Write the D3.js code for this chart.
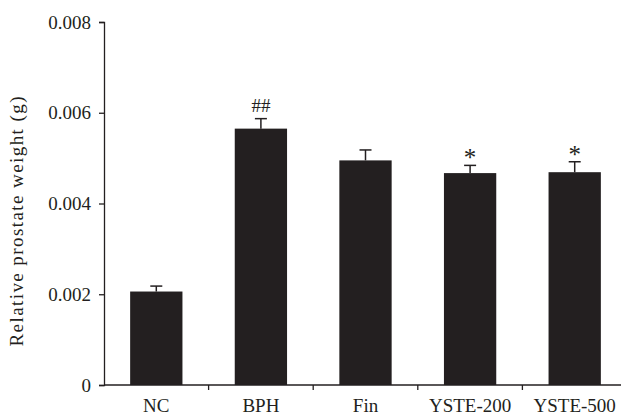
<!DOCTYPE html>
<html>
<head>
<meta charset="utf-8">
<script src="https://cdn.jsdelivr.net/npm/d3@7"></script>
<style>
  body { margin: 0; background: #fff; }
  text { font-family: "Liberation Serif", "DejaVu Serif", serif; fill: #231f20; }
</style>
</head>
<body>
<div id="chart"></div>
<script>
const groups = ['NC', 'BPH', 'Fin', 'YSTE-200', 'YSTE-500'];
const means = [0.00206, 0.00565, 0.00495, 0.00467, 0.00469];
const errs = [0.00012, 0.00022, 0.00023, 0.00017, 0.00023];
const marks = ['', '##', '', '*', '*'];
const yTicks = [0, 0.002, 0.004, 0.006, 0.008];

const width = 621, height = 417;
const margin = { top: 22, bottom: 32, left: 104, right: -6 };

const svg = d3.select('#chart').append('svg')
    .attr('width', width)
    .attr('height', height);

const x = d3.scaleBand()
    .domain(groups)
    .range([margin.left, width - margin.right])
    .paddingInner(0.5)
    .paddingOuter(0.25);

const y = d3.scaleLinear()
    .domain([0, 0.008])
    .range([height - margin.bottom, margin.top]);

const ink = '#231f20';

// bars
svg.append('g')
    .selectAll('rect')
    .data(groups)
    .join('rect')
    .attr('x', d => x(d))
    .attr('y', (d, i) => y(means[i]))
    .attr('width', x.bandwidth())
    .attr('height', (d, i) => y(0) - y(means[i]))
    .attr('fill', ink);

// error bars (upper only)
const eb = svg.append('g').attr('stroke', ink).attr('stroke-width', 1.5);
groups.forEach((g, i) => {
    const cx = x(g) + x.bandwidth() / 2;
    eb.append('line').attr('x1', cx).attr('x2', cx)
        .attr('y1', y(means[i])).attr('y2', y(means[i] + errs[i]));
    eb.append('line').attr('x1', cx - 6).attr('x2', cx + 6)
        .attr('y1', y(means[i] + errs[i])).attr('y2', y(means[i] + errs[i]));
});

// significance marks
svg.append('g')
    .selectAll('text')
    .data(groups)
    .join('text')
    .attr('x', d => x(d) + x.bandwidth() / 2)
    .attr('y', (d, i) => y(means[i] + errs[i]) + (marks[i] === '*' ? 1 : -7))
    .attr('text-anchor', 'middle')
    .attr('font-size', (d, i) => marks[i] === '*' ? '25px' : '19px')
    .text((d, i) => marks[i]);

// y axis
const yAxis = svg.append('g')
    .attr('transform', `translate(${margin.left},0)`)
    .call(d3.axisLeft(y).tickValues(yTicks).tickSize(5).tickPadding(8)
        .tickFormat(d => d === 0 ? '0' : d3.format('.3f')(d)));
yAxis.select('.domain').attr('stroke', ink).attr('stroke-width', 1.3);
yAxis.selectAll('.tick line').attr('stroke', ink).attr('stroke-width', 1.3);
yAxis.selectAll('.tick text').attr('font-size', '19px').attr('fill', ink);

// x axis: line plus ticks at category boundaries
const bottom = y(0);
svg.append('line')
    .attr('x1', margin.left).attr('x2', width)
    .attr('y1', bottom).attr('y2', bottom)
    .attr('stroke', ink).attr('stroke-width', 1.3);
const step = x.step();
svg.append('g')
    .selectAll('line')
    .data(groups.slice(1))
    .join('line')
    .attr('x1', d => x(d) - step * 0.25)
    .attr('x2', d => x(d) - step * 0.25)
    .attr('y1', bottom).attr('y2', bottom + 5)
    .attr('stroke', ink).attr('stroke-width', 1.3);
svg.append('g')
    .selectAll('text')
    .data(groups)
    .join('text')
    .attr('x', d => x(d) + x.bandwidth() / 2)
    .attr('y', bottom + 27)
    .attr('text-anchor', 'middle')
    .attr('font-size', '19px')
    .text(d => d);

// y label
svg.append('text')
    .attr('transform', `translate(23,${(margin.top + bottom) / 2 + 18}) rotate(-90)`)
    .attr('text-anchor', 'middle')
    .attr('font-size', '19px')
    .attr('textLength', 250)
    .text('Relative prostate weight (g)');
</script>
</body>
</html>
